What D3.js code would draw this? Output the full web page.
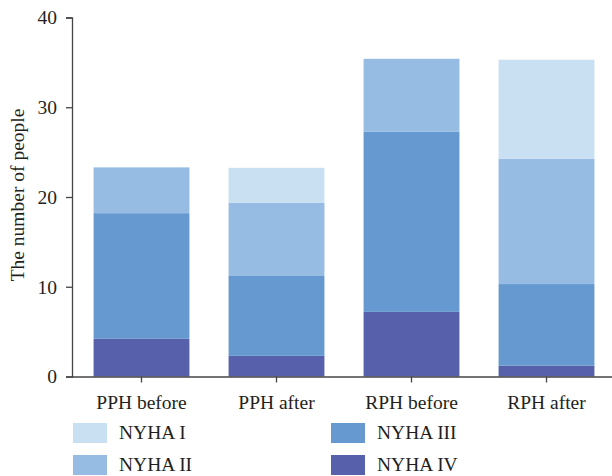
<!DOCTYPE html>
<html>
<head>
<meta charset="utf-8">
<script src="https://cdn.jsdelivr.net/npm/d3@7"></script>
<style>
  body { margin: 0; background: #fff; }
  text { font-family: "Liberation Serif", "DejaVu Serif", serif; fill: #231f20; }
</style>
</head>
<body>
<div id="chart"></div>
<script>
// groups on the x axis
const groups = ['PPH before', 'PPH after', 'RPH before', 'RPH after']
const classes = ['NYHA I', 'NYHA II', 'NYHA III', 'NYHA IV']

// number of people per class
const nyha1 = [0, 3.9, 0, 11.05]
const nyha2 = [5.1, 8.15, 8.1, 13.95]
const nyha3 = [14.0, 8.9, 20.1, 9.1]
const nyha4 = [4.2, 2.3, 7.2, 1.2]

const yTicks = [0, 10, 20, 30, 40]

const colors = ['#c9dff2', '#97bce3', '#6699cf', '#5660ab']

const chart_width = 612
const chart_height = 476
const font_size = 19.5

var svg = d3.select('#chart')
    .append('svg')
    .attr('width', chart_width)
    .attr('height', chart_height)

// table for the stack
var table = groups.map(function(g, i){
    return {
        group: g,
        'NYHA I': nyha1[i],
        'NYHA II': nyha2[i],
        'NYHA III': nyha3[i],
        'NYHA IV': nyha4[i]
    }
})

// bottom segment is NYHA IV
var stack = d3.stack().keys(classes.slice().reverse())
var series = stack(table)

var x_scale = d3.scaleBand()
    .domain(groups)
    .range([74, 614])
    .paddingInner(0.29)
    .paddingOuter(0.145)

var y_scale = d3.scaleLinear()
    .domain([0, 40])
    .range([376.5, 17.5])

var color = d3.scaleOrdinal().domain(classes).range(colors)

// bars
svg.append('g')
    .selectAll('g')
    .data(series)
    .enter()
    .append('g')
    .attr('fill', function(d){ return color(d.key) })
    .selectAll('rect')
    .data(function(d){ return d })
    .enter()
    .append('rect')
    .attr('x', function(d){ return x_scale(d.data.group) })
    .attr('y', function(d){ return y_scale(d[1]) })
    .attr('width', x_scale.bandwidth())
    .attr('height', function(d){ return y_scale(d[0]) - y_scale(d[1]) })

// y axis
var y_axis = d3.axisLeft(y_scale)
    .tickValues(yTicks)
    .tickSize(6)
    .tickPadding(9)
svg.append('g')
    .attr('class', 'y-axis')
    .attr('transform', 'translate(72,0)')
    .call(y_axis)

// x axis
var x_axis = d3.axisBottom(x_scale)
    .tickSize(6)
    .tickPadding(13)
svg.append('g')
    .attr('class', 'x-axis')
    .attr('transform', 'translate(0,' + y_scale(0) + ')')
    .call(x_axis)

svg.select('.x-axis .domain').attr('d', 'M72,0.5H612')

svg.selectAll('.domain, .tick line')
    .attr('stroke', '#444')
    .attr('stroke-width', 1.3)
svg.selectAll('.tick text')
    .attr('font-size', font_size)
    .attr('fill', '#231f20')

// y title
svg.append('text')
    .attr('transform', 'translate(24,195) rotate(-90)')
    .attr('text-anchor', 'middle')
    .attr('font-size', font_size)
    .text('The number of people')

// legend
var legend = svg.append('g')
    .selectAll('g')
    .data(classes)
    .enter()
    .append('g')
    .attr('transform', function(d, i){
        var col = Math.floor(i / 2)
        var row = i % 2
        return 'translate(' + (73 + col * 258) + ',' + (423 + row * 32) + ')'
    })

legend.append('rect')
    .attr('width', 34)
    .attr('height', 20)
    .attr('fill', function(d){ return color(d) })

legend.append('text')
    .attr('x', 46)
    .attr('y', 16)
    .attr('font-size', font_size)
    .text(function(d){ return d })
</script>
</body>
</html>
